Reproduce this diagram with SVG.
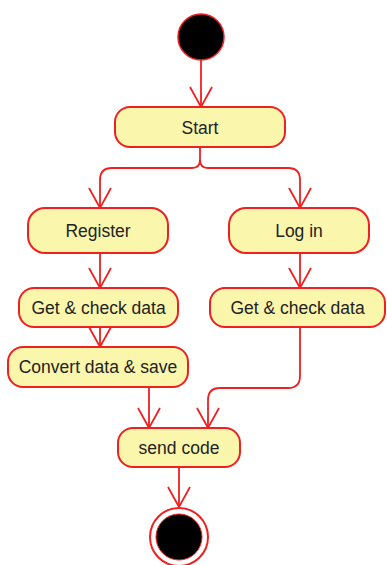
<svg xmlns="http://www.w3.org/2000/svg" width="387" height="565" viewBox="0 0 387 565">
<style>
.node rect{fill:#FAF6AC;stroke:#F02020;stroke-width:2}
.node text{font-family:"Liberation Sans",Arial,sans-serif;font-size:17.5px;fill:#222;text-anchor:middle;dominant-baseline:central}
.edge{fill:none;stroke:#F02020;stroke-width:1.8}
</style>
<defs>
<marker id="arr" viewBox="0 0 24 24" refX="22" refY="12" markerWidth="24" markerHeight="24" markerUnits="userSpaceOnUse" orient="auto">
<path d="M2,1 L22,12 L2,23" fill="none" stroke="#F02020" stroke-width="1.8"/>
</marker>
</defs>
<g id="connectors">
<path class="edge" d="M201,60 V107" marker-end="url(#arr)"/>
<path class="edge" d="M200,147 V160 Q200,168 192,168 H112 Q100,168 100,180 V208" marker-end="url(#arr)"/>
<path class="edge" d="M200,160 Q200,168 208,168 H288 Q300,168 300,180 V208" marker-end="url(#arr)"/>
<path class="edge" d="M100,253 V288" marker-end="url(#arr)"/>
<path class="edge" d="M300,253 V288" marker-end="url(#arr)"/>
<path class="edge" d="M100,327 V347" marker-end="url(#arr)"/>
<path class="edge" d="M149,387 V428" marker-end="url(#arr)"/>
<path class="edge" d="M300,327 V376 Q300,388 288,388 H220 Q208,388 208,400 V428" marker-end="url(#arr)"/>
<path class="edge" d="M179,467 V507" marker-end="url(#arr)"/>
</g>
<g id="initial">
<circle cx="201" cy="37" r="23" fill="#000" stroke="#F02020" stroke-width="1.5"/>
</g>
<g id="start" class="node">
<rect x="115" y="107" width="170" height="40" rx="15"/>
<text x="200" y="128">Start</text>
</g>
<g id="register" class="node">
<rect x="28" y="208" width="140" height="45" rx="17"/>
<text x="98" y="231">Register</text>
</g>
<g id="login" class="node">
<rect x="229" y="208" width="140" height="45" rx="17"/>
<text x="299" y="231">Log in</text>
</g>
<g id="getcheck1" class="node">
<rect x="19" y="288" width="159" height="39" rx="15"/>
<text x="98.5" y="308">Get &amp; check data</text>
</g>
<g id="getcheck2" class="node">
<rect x="210" y="288" width="175" height="39" rx="15"/>
<text x="297.5" y="308">Get &amp; check data</text>
</g>
<g id="convert" class="node">
<rect x="8" y="347" width="180" height="40" rx="15"/>
<text x="98" y="367">Convert data &amp; save</text>
</g>
<g id="sendcode" class="node">
<rect x="118" y="428" width="122" height="39" rx="15"/>
<text x="179" y="448">send code</text>
</g>
<g id="final">
<circle cx="179" cy="537" r="29" fill="#fff" stroke="#F02020" stroke-width="2"/>
<circle cx="179" cy="537" r="23" fill="#000" stroke="#F02020" stroke-width="1"/>
</g>
</svg>
